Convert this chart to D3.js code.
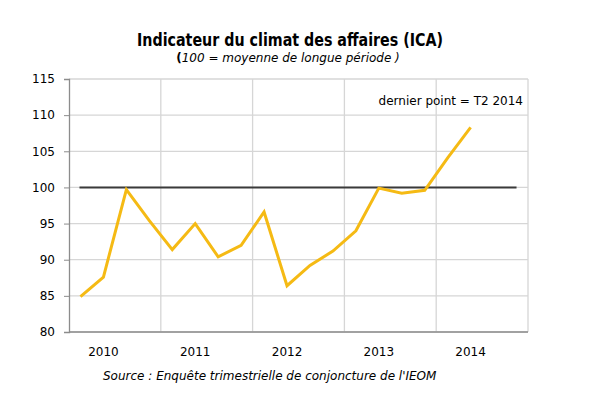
<!DOCTYPE html>
<html>
<head>
<meta charset="utf-8">
<script src="https://cdn.jsdelivr.net/npm/d3@7"></script>
<style>
  body { margin: 0; background: #fff; }
  text { font-family: "DejaVu Sans", Verdana, sans-serif; fill: #000; }
</style>
</head>
<body>
<div id="chart"></div>
<script>
// quarterly values of the business climate indicator
const quarters = [
    "T1 2010", "T2 2010", "T3 2010", "T4 2010",
    "T1 2011", "T2 2011", "T3 2011", "T4 2011",
    "T1 2012", "T2 2012", "T3 2012", "T4 2012",
    "T1 2013", "T2 2013", "T3 2013", "T4 2013",
    "T1 2014", "T2 2014", "T3 2014", "T4 2014"
];
const icaValues = [
    84.9, 87.6, 99.7, 95.4,
    91.4, 95.0, 90.4, 92.0,
    96.6, 86.4, 89.2, 91.2,
    94.0, 99.9, 99.2, 99.6,
    104.1, 108.3
];
const reference = 100;
const yTicks = [80, 85, 90, 95, 100, 105, 110, 115];
const years = ["2010", "2011", "2012", "2013", "2014"];

const width = 595;
const height = 398;
const margin = { top: 79, right: 67, bottom: 66, left: 69 };

const svg = d3.select("#chart")
    .append("svg")
    .attr("width", width)
    .attr("height", height);

const x = d3.scaleBand()
    .domain(quarters)
    .range([margin.left, width - margin.right]);

const y = d3.scaleLinear()
    .domain([80, 115])
    .range([height - margin.bottom, margin.top]);

const xc = q => x(q) + x.bandwidth() / 2;

// grid
svg.append("g")
    .selectAll("line")
    .data(yTicks)
    .join("line")
    .attr("x1", margin.left)
    .attr("x2", width - margin.right)
    .attr("y1", d => y(d))
    .attr("y2", d => y(d))
    .attr("stroke", "#d6d6d6")
    .attr("stroke-width", 1.3);

svg.append("g")
    .selectAll("line")
    .data(years.slice(1).concat(["end"]))
    .join("line")
    .attr("x1", (d, i) => x(quarters[(i + 1) * 4]) ?? width - margin.right)
    .attr("x2", (d, i) => x(quarters[(i + 1) * 4]) ?? width - margin.right)
    .attr("y1", margin.top)
    .attr("y2", height - margin.bottom)
    .attr("stroke", "#d6d6d6")
    .attr("stroke-width", 1.3);

// y axis
const yAxis = svg.append("g")
    .attr("transform", `translate(${margin.left},0)`)
    .call(d3.axisLeft(y).tickValues(yTicks).tickSize(5).tickPadding(9));
yAxis.select(".domain").attr("stroke", "#8c8c8c").attr("stroke-width", 1.3);
yAxis.selectAll(".tick line").attr("stroke", "#8c8c8c");
yAxis.selectAll("text")
    .style("font-family", "DejaVu Sans, sans-serif")
    .style("font-size", "12px")
    .attr("fill", "#000");

// bottom axis line
svg.append("line")
    .attr("x1", margin.left)
    .attr("x2", width - margin.right)
    .attr("y1", y(80))
    .attr("y2", y(80))
    .attr("stroke", "#8c8c8c")
    .attr("stroke-width", 1.3);

// year labels, placed under the second quarter
svg.append("g")
    .selectAll("text")
    .data(years)
    .join("text")
    .attr("x", (d, i) => xc(quarters[i * 4 + 1]))
    .attr("y", 356)
    .attr("text-anchor", "middle")
    .style("font-size", "12px")
    .text(d => d);

// reference line at 100
svg.append("line")
    .attr("x1", xc(quarters[0]) - 1)
    .attr("x2", xc(quarters[quarters.length - 1]))
    .attr("y1", y(reference))
    .attr("y2", y(reference))
    .attr("stroke", "#3a3a3a")
    .attr("stroke-width", 2);

// ICA line
const line = d3.line()
    .x((d, i) => xc(quarters[i]))
    .y(d => y(d));

svg.append("path")
    .datum(icaValues)
    .attr("fill", "none")
    .attr("stroke", "#F5BA14")
    .attr("stroke-width", 3)
    .attr("stroke-linejoin", "miter")
    .attr("d", line);

// titles
svg.append("text")
    .attr("x", 290)
    .attr("y", 46)
    .attr("text-anchor", "middle")
    .attr("textLength", 306)
    .attr("lengthAdjust", "spacingAndGlyphs")
    .style("font-family", "DejaVu Sans, sans-serif")
    .style("font-weight", "bold")
    .style("font-size", "17px")
    .text("Indicateur du climat des affaires (ICA)");

const sub = svg.append("text")
    .attr("x", 288)
    .attr("y", 62)
    .attr("text-anchor", "middle")
    .style("font-size", "12px");
sub.append("tspan").style("font-weight", "bold").text("(");
sub.append("tspan").style("font-style", "italic").text("100 = moyenne de longue période )");

svg.append("text")
    .attr("x", width - margin.right - 5)
    .attr("y", 105)
    .attr("text-anchor", "end")
    .style("font-size", "12px")
    .text("dernier point = T2 2014");

svg.append("text")
    .attr("x", 103)
    .attr("y", 380)
    .style("font-size", "12px")
    .style("font-style", "italic")
    .text("Source : Enquête trimestrielle de conjoncture de l'IEOM");
</script>
</body>
</html>
